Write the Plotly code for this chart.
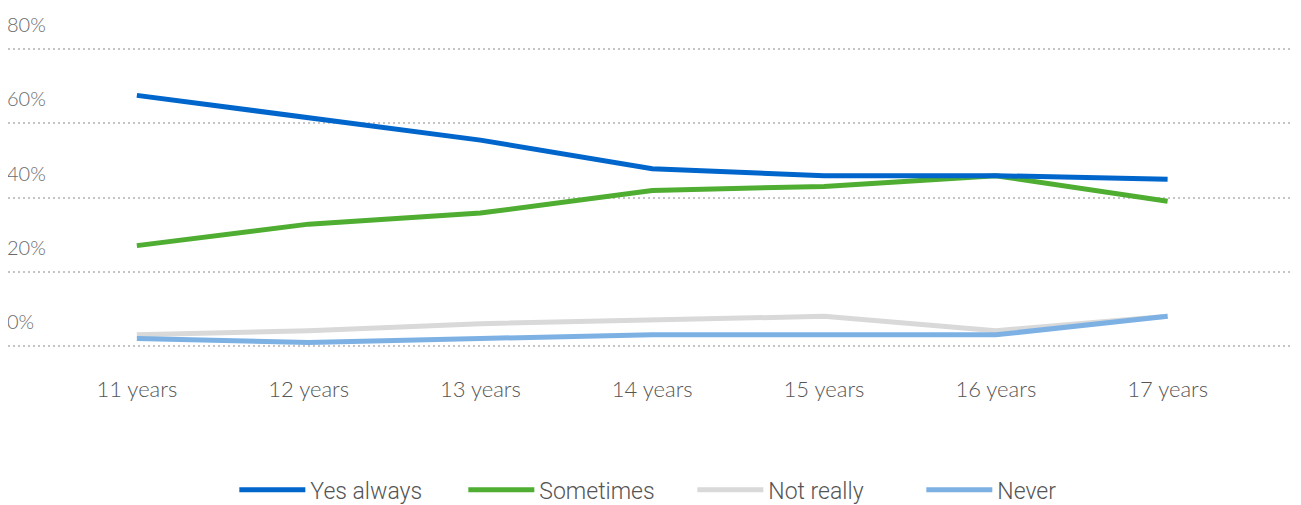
import plotly.graph_objects as go

categories = ["11 years", "12 years", "13 years", "14 years", "15 years", "16 years", "17 years"]
yes_always = [67.6, 61.7, 55.5, 47.8, 45.9, 45.9, 44.9]
sometimes = [27.0, 32.8, 35.8, 41.9, 43.0, 45.9, 39.0]
not_really = [2.9, 4.0, 5.9, 6.9, 7.9, 4.0, 7.9]
never = [1.9, 0.8, 1.9, 2.9, 2.9, 2.9, 7.9]

series_names = ["Yes always", "Sometimes", "Not really", "Never"]
series_colors = ["#0066CC", "#4FAD32", "#D9D9D9", "#7DB1E4"]

y_ticks = [0, 20, 40, 60, 80]
y_tick_labels = ["0%", "20%", "40%", "60%", "80%"]

fig = go.Figure()
data = [yes_always, sometimes, not_really, never]
# draw order: light lines first so dark ones sit on top
for i in [2, 3, 1, 0]:
    fig.add_trace(go.Scatter(
        x=categories, y=data[i], name=series_names[i], mode="lines",
        line=dict(color=series_colors[i], width=5),
        legendrank=i + 1,
    ))

for v, lab in zip(y_ticks, y_tick_labels):
    fig.add_annotation(
        x=0, xref="paper", y=v, yref="y", text=lab, showarrow=False,
        xanchor="left", yanchor="bottom", yshift=11, xshift=-3,
        font=dict(family="Lato, Open Sans, sans-serif", size=20, color="#6a6a6a", weight=300),
    )

fig.update_layout(
    width=1301, height=505,
    margin=dict(l=0, r=0, t=40, b=166),
    plot_bgcolor="white", paper_bgcolor="white",
    showlegend=True,
    legend=dict(
        orientation="h", x=0.526, xanchor="center", y=-0.478, yanchor="middle",
        font=dict(family="Roboto, sans-serif", size=23, color="#555555", weight=300),
        itemwidth=66, traceorder="normal", entrywidth=148,
    ),
    xaxis=dict(
        type="category", range=[-0.75, 6.823], showgrid=False, showline=False, zeroline=False,
        ticks="", ticklabelstandoff=27, automargin=False,
        tickfont=dict(family="Lato, Open Sans, sans-serif", size=22, color="#555555", weight=300),
    ),
    yaxis=dict(
        range=[-0.4, 80.4], tickvals=y_ticks, showticklabels=False, showline=False, zeroline=False,
        showgrid=True, gridcolor="#C4C4C4", gridwidth=2, griddash="2px,3px", automargin=False,
    ),
)

fig.write_html("out.html")
